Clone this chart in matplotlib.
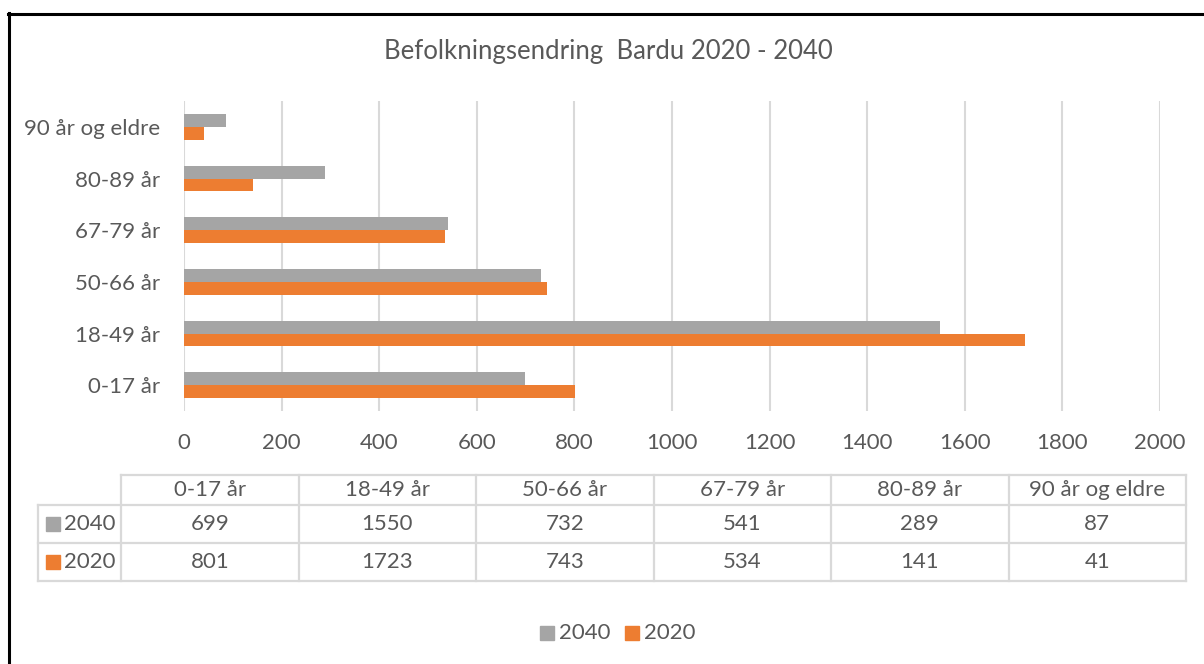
import matplotlib
matplotlib.use("Agg")
import matplotlib.pyplot as plt
import numpy as np

plt.rcParams['font.family'] = ['Lato', 'DejaVu Sans']

# data
categories = ["0-17 år", "18-49 år", "50-66 år", "67-79 år", "80-89 år", "90 år og eldre"]
series_names = ["2040", "2020"]
values_2040 = [699, 1550, 732, 541, 289, 87]
values_2020 = [801, 1723, 743, 534, 141, 41]
xticks = [0, 200, 400, 600, 800, 1000, 1200, 1400, 1600, 1800, 2000]
title = "Befolkningsendring  Bardu 2020 - 2040"

GRAY = "#A5A5A5"
ORANGE = "#ED7D31"
TXT = "#595959"
GRID = "#D9D9D9"
colors = [GRAY, ORANGE]
FS = 16

W, H = 1204, 664
fig = plt.figure(figsize=(W / 100, H / 100), dpi=100)

# main bar axes (pixel box: x 184..1160, y 101..411)
ax = fig.add_axes([184 / W, 1 - 411 / H, (1160 - 184) / W, (411 - 101) / H])
y = np.arange(len(categories))
h = 0.25
ax.barh(y + h / 2, values_2040, height=h, color=GRAY)
ax.barh(y - h / 2, values_2020, height=h, color=ORANGE)
ax.set_ylim(-0.5, len(categories) - 0.5)
ax.set_xlim(0, 2000)
ax.set_xticks(xticks)
ax.set_xticklabels([str(t) for t in xticks])
ax.set_yticks(y)
ax.set_yticklabels(categories)
ax.tick_params(axis="both", length=0, labelsize=FS, labelcolor=TXT)
ax.tick_params(axis="x", pad=16)
ax.tick_params(axis="y", pad=17)
ax.grid(axis="x", color=GRID, linewidth=1.5)
ax.set_axisbelow(True)
for s in ax.spines.values():
    s.set_visible(False)

# overlay for border, title, data table and legend (pixel coords)
ov = fig.add_axes([0, 0, 1, 1], zorder=-1)
ov.set_xlim(0, W)
ov.set_ylim(H, 0)
ov.axis("off")

ov.plot([8, W], [13.5, 13.5], color="black", lw=2.2)
ov.plot([8.5, 8.5], [13, H], color="black", lw=2.2)

ov.text(608, 52, title, ha="center", va="center", fontsize=18.5, color=TXT)

# data table
col_x = [121 + i * 177.5 for i in range(len(categories) + 1)]
row_y = [475, 505, 543, 581]
tl = dict(color=GRID, lw=1.6, solid_capstyle="projecting")
ov.plot([col_x[0], col_x[-1]], [row_y[0], row_y[0]], **tl)
for ry in row_y[1:]:
    ov.plot([38, col_x[-1]], [ry, ry], **tl)
for cx in col_x:
    ov.plot([cx, cx], [row_y[0], row_y[-1]], **tl)
ov.plot([38, 38], [row_y[1], row_y[-1]], **tl)

for i, cat in enumerate(categories):
    cx = (col_x[i] + col_x[i + 1]) / 2
    ov.text(cx, (row_y[0] + row_y[1]) / 2, cat, ha="center", va="center",
            fontsize=FS, color=TXT)
    for r, vals in enumerate([values_2040, values_2020]):
        ov.text(cx, (row_y[r + 1] + row_y[r + 2]) / 2, str(vals[i]), ha="center",
                va="center", fontsize=FS, color=TXT)

for r, name in enumerate(series_names):
    cy = (row_y[r + 1] + row_y[r + 2]) / 2
    ov.plot(53, cy, marker="s", markersize=10, color=colors[r], linestyle="none")
    ov.text(64, cy, name, ha="left", va="center", fontsize=FS, color=TXT)

# legend
lx = [547, 632]
for i, name in enumerate(series_names):
    ov.plot(lx[i], 633, marker="s", markersize=10, color=colors[i], linestyle="none")
    ov.text(lx[i] + 12, 633, name, ha="left", va="center", fontsize=FS, color=TXT)

fig.savefig("out.png", dpi=100)
